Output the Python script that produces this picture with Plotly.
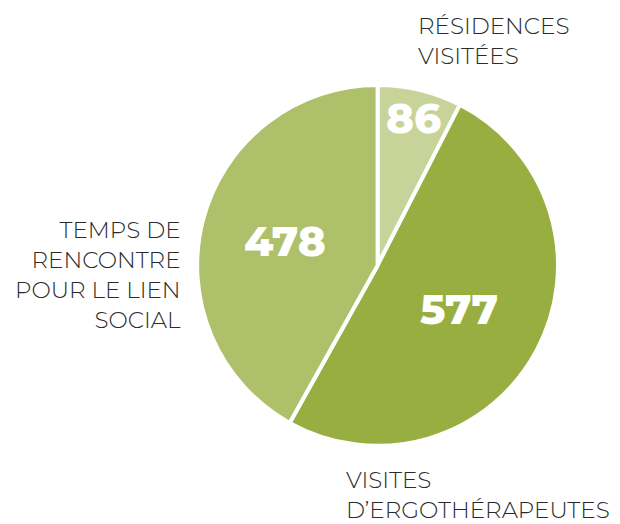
import math
import plotly.graph_objects as go

# Activity counts per category
categories = ["RÉSIDENCES<br>VISITÉES",
              "VISITES<br>D’ERGOTHÉRAPEUTES",
              "TEMPS DE<br>RENCONTRE<br>POUR LE LIEN<br>SOCIAL"]
values = [86, 577, 478]
colors = ["#c8d39a", "#98ae41", "#afc06b"]

W, H = 620, 524
dom_x = [0.318, 0.900]
dom_y = [0.149, 0.838]

fig = go.Figure(go.Pie(
    labels=categories,
    values=values,
    sort=False,
    direction="clockwise",
    rotation=0,
    textinfo="none",
    hoverinfo="label+value",
    marker=dict(colors=colors, line=dict(color="white", width=4)),
    domain=dict(x=dom_x, y=dom_y),
))

# Pie geometry in pixels (square fit inside the domain)
cx = (dom_x[0] + dom_x[1]) / 2 * W
cy = (1 - (dom_y[0] + dom_y[1]) / 2) * H
R = min((dom_x[1] - dom_x[0]) * W, (dom_y[1] - dom_y[0]) * H) / 2

# Value labels placed at each slice's mid-angle
radial = [0.84, 0.51, 0.53]
total = sum(values)
start = 0.0
for v, rf in zip(values, radial):
    mid = start + v / total * 360 / 2
    start += v / total * 360
    a = math.radians(mid)
    px = cx + rf * R * math.sin(a)
    py = cy - rf * R * math.cos(a)
    fig.add_annotation(
        x=px / W, y=1 - py / H, xref="paper", yref="paper",
        text=str(v), showarrow=False, xanchor="center", yanchor="middle",
        font=dict(family="Montserrat, Lato, sans-serif", size=42,
                  color="white", weight=800),
    )

# Category captions around the pie
label_font = dict(family="Montserrat, Lato, sans-serif", size=23,
                  color="#2b2b2b", weight=300)
fig.add_annotation(x=416 / W, y=1 - 10 / H, xref="paper", yref="paper",
                   text=categories[0], showarrow=False, align="left",
                   xanchor="left", yanchor="top", font=label_font)
fig.add_annotation(x=344 / W, y=1 - 464 / H, xref="paper", yref="paper",
                   text=categories[1], showarrow=False, align="left",
                   xanchor="left", yanchor="top", font=label_font)
fig.add_annotation(x=183 / W, y=1 - 275 / H, xref="paper", yref="paper",
                   text=categories[2], showarrow=False, align="right",
                   xanchor="right", yanchor="middle", font=label_font)

fig.update_layout(
    width=W, height=H,
    margin=dict(l=0, r=0, t=0, b=0),
    showlegend=False,
    paper_bgcolor="white",
    plot_bgcolor="white",
)

fig.write_html("out.html")
